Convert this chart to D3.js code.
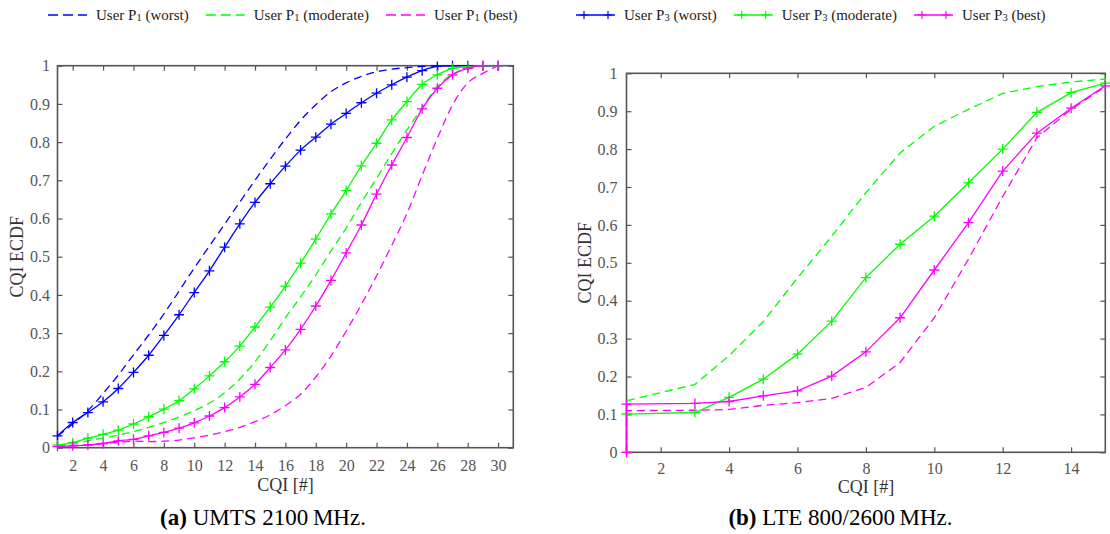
<!DOCTYPE html>
<html><head><meta charset="utf-8">
<script src="https://cdn.jsdelivr.net/npm/d3@7"></script>
<style>
body{margin:0;background:#fff}
text{font-family:"Liberation Serif","Times New Roman",serif}
</style>
</head><body>
<svg id="c" width="1110" height="534"></svg>
<script>
// ---------------- data ----------------
const umtsCQI = [1,2,3,4,5,6,7,8,9,10,11,12,13,14,15,16,17,18,19,20,21,22,23,24,25,26,27,28,29,30];
const umtsP1Worst    = [0.030,0.062,0.097,0.142,0.190,0.243,0.295,0.350,0.410,0.470,0.528,0.585,0.643,0.700,0.755,0.808,0.857,0.898,0.932,0.955,0.972,0.984,0.991,0.995,0.998,1,1,1,1,1];
const umtsP1Moderate = [0.007,0.011,0.018,0.025,0.033,0.042,0.053,0.066,0.080,0.097,0.117,0.144,0.180,0.225,0.280,0.340,0.395,0.452,0.515,0.575,0.642,0.705,0.770,0.832,0.890,0.945,0.978,0.992,0.998,1];
const umtsP1Best     = [0.004,0.006,0.008,0.011,0.014,0.017,0.016,0.017,0.020,0.026,0.033,0.042,0.053,0.068,0.086,0.110,0.140,0.185,0.240,0.305,0.375,0.450,0.530,0.613,0.713,0.810,0.897,0.955,0.980,1];
const umtsP3Worst    = [0.031,0.066,0.092,0.120,0.155,0.197,0.242,0.294,0.348,0.406,0.463,0.525,0.586,0.642,0.691,0.737,0.779,0.813,0.847,0.875,0.903,0.928,0.950,0.970,0.987,0.998,1,1,1,1];
const umtsP3Moderate = [0.007,0.013,0.025,0.035,0.046,0.062,0.081,0.101,0.123,0.154,0.188,0.225,0.266,0.316,0.368,0.423,0.483,0.546,0.612,0.673,0.738,0.797,0.858,0.906,0.951,0.976,0.993,0.997,1,1];
const umtsP3Best     = [0.003,0.005,0.007,0.011,0.018,0.022,0.031,0.040,0.051,0.065,0.083,0.105,0.133,0.166,0.210,0.256,0.310,0.371,0.438,0.510,0.583,0.664,0.740,0.812,0.887,0.941,0.976,0.993,1,1];

const lteCQI = [1,1,3,4,5,6,7,8,9,10,11,12,13,14,15];
const lteP1Moderate = [0,0.136,0.179,0.255,0.345,0.460,0.570,0.685,0.790,0.860,0.905,0.947,0.965,0.977,0.985];
const lteP1Best     = [0,0.110,0.111,0.113,0.124,0.131,0.142,0.171,0.237,0.355,0.510,0.675,0.830,0.905,0.965];
const lteP3Moderate = [0,0.101,0.105,0.145,0.193,0.259,0.346,0.461,0.549,0.623,0.711,0.800,0.897,0.949,0.974];
const lteP3Best     = [0,0.127,0.129,0.134,0.149,0.162,0.201,0.265,0.355,0.481,0.606,0.742,0.842,0.908,0.967];

const umtsXTicks = [2,4,6,8,10,12,14,16,18,20,22,24,26,28,30];
const lteXTicks  = [2,4,6,8,10,12,14];
const yTicks = [0,0.1,0.2,0.3,0.4,0.5,0.6,0.7,0.8,0.9,1];
const yTickLabels = ["0","0.1","0.2","0.3","0.4","0.5","0.6","0.7","0.8","0.9","1"];

const seriesNames  = ["worst","moderate","best","worst","moderate","best"];
const seriesUser   = ["1","1","1","3","3","3"];
const seriesColors = ["#0000ff","#00ff00","#ff00ff","#0000ff","#00ff00","#ff00ff"];
const seriesDashed = [true,true,true,false,false,false];

const xLabel = "CQI [#]";
const yLabel = "CQI ECDF";
const captions = [["(a)"," UMTS 2100\u2009MHz."],["(b)"," LTE 800/2600\u2009MHz."]];

// ---------------- drawing ----------------
const FONT = '"Liberation Serif","Times New Roman",serif';
const svg = d3.select("#c");
const plus = "M-5,0H5M0,-5V5";

function panel(cfg){
  const x = d3.scaleLinear().domain(cfg.xDomain).range([cfg.x0, cfg.x1]);
  const y = d3.scaleLinear().domain([0,1]).range([cfg.yBot, cfg.yTop]);
  const g = svg.append("g");

  const style = (sel) => {
    sel.style("font-family", FONT);
    sel.select(".domain").remove();
    sel.selectAll(".tick line").attr("stroke","#555").attr("stroke-width",1.2);
    sel.selectAll(".tick text").attr("fill","#555").style("font-size","16px").style("font-family",FONT);
  };
  g.append("g").attr("transform",`translate(0,${cfg.yBot})`)
    .call(d3.axisBottom(x).tickValues(cfg.xTicks).tickSize(-5).tickPadding(cfg.xPad).tickFormat(d3.format("d")))
    .call(style);
  g.append("g").attr("transform",`translate(0,${cfg.yTop})`)
    .call(d3.axisTop(x).tickValues(cfg.xTicks).tickSize(-5).tickFormat(""))
    .call(style);
  g.append("g").attr("transform",`translate(${cfg.x0},0)`)
    .call(d3.axisLeft(y).tickValues(yTicks).tickSize(-5).tickPadding(cfg.yPad).tickFormat((d,i)=>yTickLabels[i]))
    .call(style);
  g.append("g").attr("transform",`translate(${cfg.x1},0)`)
    .call(d3.axisRight(y).tickValues(yTicks).tickSize(-5).tickFormat(""))
    .call(style);

  g.append("rect").attr("x",cfg.x0).attr("y",cfg.yTop)
    .attr("width",cfg.x1-cfg.x0).attr("height",cfg.yBot-cfg.yTop)
    .attr("fill","none").attr("stroke","#555").attr("stroke-width",1.6);

  // series
  cfg.series.forEach(s=>{
    const pts = s.values.map((v,i)=>[cfg.xs[i],v]);
    const line = d3.line().x(d=>x(d[0])).y(d=>y(d[1])).curve(cfg.curve);
    g.append("path").attr("d",line(pts)).attr("fill","none")
      .attr("stroke",seriesColors[s.k]).attr("stroke-width",1.3)
      .attr("stroke-dasharray",seriesDashed[s.k]?"8,5":null);
    if(!seriesDashed[s.k]){
      g.selectAll(null).data(pts).enter().append("path")
        .attr("d",plus).attr("transform",d=>`translate(${x(d[0])},${y(d[1])})`)
        .attr("stroke",seriesColors[s.k]).attr("stroke-width",1.3).attr("fill","none");
    }
  });

  // axis titles
  g.append("text").attr("x",(cfg.x0+cfg.x1)/2).attr("y",cfg.xTitleY)
    .attr("text-anchor","middle").attr("fill","#333").style("font-size","18px").text(xLabel);
  g.append("text").attr("transform",`translate(${cfg.yTitleX},${(cfg.yTop+cfg.yBot)/2}) rotate(-90)`)
    .attr("text-anchor","middle").attr("dominant-baseline","central").attr("fill","#333").style("font-size","18px").text(yLabel);

  // caption
  const cap = g.append("text").attr("x",cfg.capX).attr("y",cfg.capY)
    .attr("text-anchor","middle").attr("fill","#000").style("font-size","23px");
  cap.append("tspan").attr("font-weight","bold").text(captions[cfg.idx][0]);
  cap.append("tspan").text(captions[cfg.idx][1]);
}

panel({
  idx:0, xDomain:[1,31], x0:57.5, x1:513.3, yTop:65.7, yBot:447.7,
  xTicks:umtsXTicks, xPad:11.5, yPad:7.5, xTitleY:491, yTitleX:17,
  capX:263, capY:525, curve:d3.curveMonotoneX, xs:umtsCQI,
  series:[
    {k:0, values:umtsP1Worst},{k:1, values:umtsP1Moderate},{k:2, values:umtsP1Best},
    {k:3, values:umtsP3Worst},{k:4, values:umtsP3Moderate},{k:5, values:umtsP3Best}
  ]
});
panel({
  idx:1, xDomain:[1,15], x0:626.5, x1:1105.3, yTop:73.3, yBot:452.3,
  xTicks:lteXTicks, xPad:10.5, yPad:9, xTitleY:493, yTitleX:585,
  capX:840.5, capY:525, curve:d3.curveLinear, xs:lteCQI,
  series:[
    {k:1, values:lteP1Moderate},{k:2, values:lteP1Best},
    {k:4, values:lteP3Moderate},{k:5, values:lteP3Best}
  ]
});

// ---------------- legend ----------------
const leg = svg.append("g");
const groupStart = [48, 576];
[0,1].forEach(grp=>{
  let cx = groupStart[grp];
  for(let j=0;j<3;j++){
    const k = grp*3+j;
    const it = leg.append("g");
    it.append("line").attr("x1",cx).attr("x2",cx+39).attr("y1",15).attr("y2",15)
      .attr("stroke",seriesColors[k]).attr("stroke-width",1.3)
      .attr("stroke-dasharray",seriesDashed[k]?"10,5":null);
    if(!seriesDashed[k]){
      [cx+8, cx+32].forEach(px=>{
        it.append("path").attr("d","M-4,0H4M0,-4V4").attr("transform",`translate(${px},15)`)
          .attr("stroke",seriesColors[k]).attr("stroke-width",1.2);
      });
    }
    const t = it.append("text").attr("x",cx+48).attr("y",20).attr("fill","#222").style("font-size","15px");
    t.append("tspan").text("User P");
    t.append("tspan").style("font-size","10.5px").attr("dy",1).text(seriesUser[k]);
    t.append("tspan").attr("dy",-1).text(" ("+seriesNames[k]+")");
    const w = t.node().getComputedTextLength();
    cx = cx + 48 + w + 17;
  }
});
</script>
</body></html>
